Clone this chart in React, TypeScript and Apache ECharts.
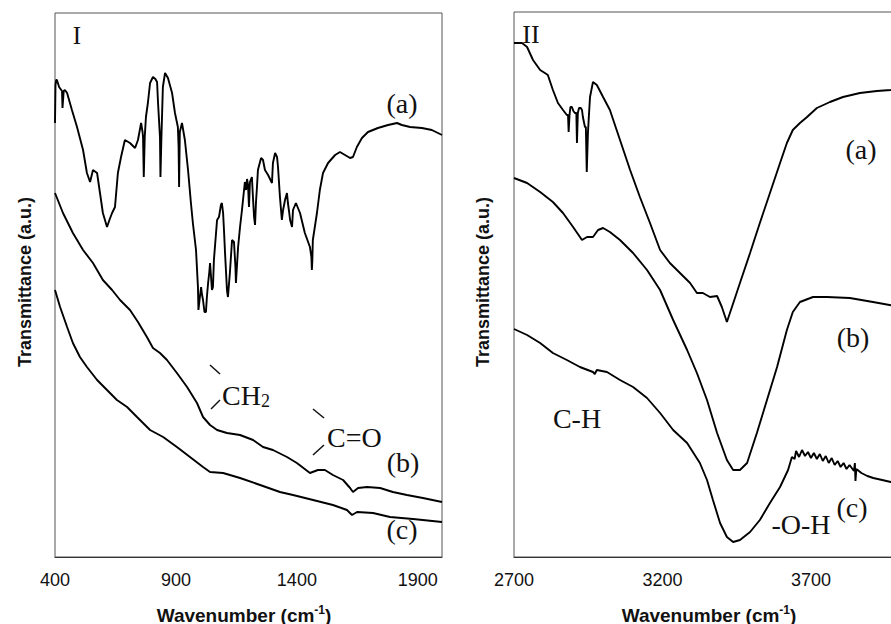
import React, { useEffect, useRef } from "react";
import * as echarts from "echarts";

// Tick labels
const LEFT_TICKS = [400, 900, 1400, 1900];
const RIGHT_TICKS = [2700, 3200, 3700];

// Panel I: [wavenumber, transmittance (a.u.)]
const leftA: number[][] = [
  [400,434],[402,472],[405,477],[408,477],[417,470],[429,466],[431,449],[433,449],[436,466],[441,467],[450,464],[470,447],[491,430],[516,407],[532,384],[545,375],[557,387],[574,384],[586,364],[598,344],[615,330],[625,337],[636,344],[648,350],[660,384],[673,400],[689,417],[710,414],[731,409],[743,417],[756,434],[762,425],[764,420],[767,380],[771,420],[776,440],[784,454],[793,474],[805,480],[815,478],[822,475],[826,454],[834,420],[836,380],[840,420],[846,470],[855,484],[867,479],[884,464],[896,444],
  [908,430],[911,410],[913,370],[916,425],[921,430],[925,434],[937,417],[950,387],[962,354],[970,334],[983,307],[991,270],[993,247],[995,247],[999,260],[1004,270],[1008,262],[1012,257],[1018,245],[1024,245],[1028,260],[1033,274],[1038,285],[1041,294],[1049,267],[1053,270],[1057,297],[1070,337],[1078,340],[1086,352],[1090,354],[1095,344],[1099,325],[1103,304],[1111,267],[1115,260],[1123,284],[1132,317],[1140,315],[1146,290],[1148,274],[1152,290],[1157,310],[1165,330],[1173,347],[1185,375],[1190,367],[1194,378],[1198,372],[1202,350],[1206,375],[1214,380],[1219,357],[1223,340],[1227,332],[1231,355],[1235,370],[1239,387],[1252,399],[1260,397],[1268,387],[1281,382],[1297,374],[1301,394],[1310,404],[1318,400],[1322,390],[1330,360],[1338,337],[1343,347],[1351,357],[1359,364],[1363,354],[1368,345],[1372,337],[1380,330],[1384,347],[1396,354],
  [1413,344],[1433,324],[1454,310],[1460,300],[1462,287],[1464,297],[1466,317],[1483,344],[1495,367],[1508,384],[1529,394],[1558,402],[1578,405],[1599,402],[1620,399],[1632,400],[1648,410],[1669,419],[1694,425],[1735,429],[1777,432],[1814,434],[1834,432],[1868,430],[1917,429],[1958,427],[2000,422]
];
const leftB: number[][] = [
  [400,364],[433,344],[474,324],[516,307],[557,294],[598,277],[636,267],[669,257],[710,247],[743,235],[780,220],[805,209],[834,204],[863,197],[904,184],[946,170],[987,154],[1012,140],[1041,132],[1070,127],[1111,124],[1165,122],[1219,117],[1260,110],[1301,107],[1359,100],[1400,94],[1454,84],[1487,87],[1516,87],[1549,82],[1591,77],[1620,69],[1632,65],[1653,69],[1690,70],[1744,69],[1797,65],[1855,62],[1921,59],[2000,55]
];
const leftC: number[][] = [
  [400,267],[421,250],[450,230],[474,214],[503,200],[532,190],[574,177],[615,167],[656,157],[698,150],[739,140],[793,127],[847,120],[904,110],[958,100],[1012,90],[1041,85],[1095,84],[1165,79],[1248,72],[1330,65],[1384,62],[1467,57],[1549,52],[1607,47],[1628,42],[1649,45],[1715,44],[1785,40],[1880,38],[2000,35]
];

// Panel II
const rightA: number[][] = [
  [2700,514],[2727,514],[2744,510],[2764,497],[2788,487],[2804,484],[2814,482],[2831,467],[2848,454],[2865,447],[2878,442],[2882,442],[2884,425],[2887,442],[2890,450],[2895,450],[2900,446],[2905,444],[2910,444],[2912,414],[2915,444],[2919,449],[2925,449],[2929,447],[2932,440],[2939,430],[2942,430],[2945,385],[2947,385],[2949,424],[2952,440],[2956,460],[2966,475],[2979,472],[3000,460],[3023,447],[3057,417],[3091,387],[3124,360],[3158,334],[3192,307],[3225,294],[3259,284],[3293,274],[3316,264],[3336,264],[3360,260],[3384,261],[3400,250],[3417,235],[3434,250],[3461,274],[3495,304],[3528,334],[3562,364],[3596,394],[3619,414],[3639,427],[3663,434],[3687,440],[3720,449],[3764,455],[3808,460],[3865,464],[3922,466],[3969,467],[4000,468]
];
const rightB: number[][] = [
  [2700,379],[2744,374],[2788,365],[2831,355],[2865,344],[2899,330],[2929,317],[2946,320],[2966,320],[2983,327],[3000,329],[3023,325],[3057,317],[3101,304],[3148,287],[3192,267],[3236,237],[3283,207],[3316,184],[3350,157],[3384,124],[3417,97],[3438,87],[3461,87],[3485,94],[3518,124],[3552,157],[3586,190],[3619,227],[3639,245],[3663,255],[3707,260],[3754,260],[3831,259],[3909,255],[4000,250]
];
const rightC: number[][] = [
  [2700,228],[2744,222],[2788,214],[2831,204],[2878,197],[2922,190],[2966,185],[2972,183],[2979,187],[3013,185],[3057,177],[3101,170],[3148,159],[3192,144],[3236,127],[3283,114],[3326,94],[3350,77],[3370,57],[3394,34],[3417,20],[3438,15],[3461,17],[3495,25],[3528,37],[3562,54],[3596,70],[3623,87],[3636,100],[3645,98],[3650,106],[3660,100],[3670,107],[3680,101],[3690,105],[3700,99],[3710,104],[3720,98],[3730,103],[3740,96],[3750,101],[3760,94],[3770,99],[3780,92],[3790,96],[3800,90],[3810,94],[3820,88],[3830,92],[3845,86],[3848,94],[3850,76],[3853,88],[3870,84],[3890,81],[3910,79],[3940,77],[3969,75],[4000,73]
];

const SANS = "'Liberation Sans', Arial, sans-serif";
const SERIF = "'Liberation Serif', 'Times New Roman', serif";

export default function App() {
  const ref = useRef<HTMLDivElement>(null);
  useEffect(() => {
    if (!ref.current) return;
    const chart = echarts.init(ref.current, undefined, { renderer: "svg" });
    const line = (data: number[][], idx: number) => ({
      type: "line",
      data,
      xAxisIndex: idx,
      yAxisIndex: idx,
      showSymbol: false,
      symbol: "none",
      lineStyle: { color: "#000", width: 1.9 },
      silent: true,
    });
    const xAxisBase = (min: number, max: number, ticks: number[], gi: number) => ({
      gridIndex: gi,
      type: "value",
      min,
      max,
      interval: 500,
      axisLine: { show: true, lineStyle: { color: "#333", width: 1 } },
      axisTick: { show: false },
      splitLine: { show: false },
      axisLabel: {
        fontSize: 18,
        fontFamily: SANS,
        color: "#111",
        margin: 14,
        formatter: (v: number) => (ticks.includes(v) ? String(v) : ""),
      },
    });
    const yAxisBase = (gi: number, max: number) => ({
      gridIndex: gi,
      type: "value",
      min: 0,
      max,
      axisLine: { show: false },
      axisTick: { show: false },
      axisLabel: { show: false },
      splitLine: { show: false },
    });
    const serifText = (text: string, x: number, y: number, size = 28, align = "center") => ({
      type: "text",
      x,
      y,
      style: {
        text,
        fontFamily: SERIF,
        fontSize: size,
        fill: "#111",
        align,
        verticalAlign: "middle",
      },
      silent: true,
    });
    const tick = (x1: number, y1: number, x2: number, y2: number) => ({
      type: "line",
      shape: { x1, y1, x2, y2 },
      style: { stroke: "#111", lineWidth: 1.5 },
      silent: true,
    });
    const yName = (x: number) => ({
      type: "text",
      x,
      y: 282,
      rotation: Math.PI / 2,
      style: {
        text: "Transmittance (a.u.)",
        fontFamily: SANS,
        fontWeight: "bold",
        fontSize: 18,
        fill: "#111",
        align: "center",
        verticalAlign: "middle",
      },
      silent: true,
    });
    const xName = (x: number) => ({
      type: "text",
      x,
      y: 615,
      style: {
        text: "{m|Wavenumber (cm}{s|-1}{m|)}",
        align: "center",
        verticalAlign: "middle",
        rich: {
          m: { fontFamily: SANS, fontWeight: "bold", fontSize: 19, fill: "#111", lineHeight: 22 },
          s: { fontFamily: SANS, fontWeight: "bold", fontSize: 12, fill: "#111", lineHeight: 14, verticalAlign: "top" },
        },
      },
      silent: true,
    });

    chart.setOption({
      animation: false,
      backgroundColor: "#fff",
      grid: [
        { left: 55, top: 13, width: 387, height: 544, show: true, borderColor: "#555", borderWidth: 1, containLabel: false, outerBoundsMode: "none" },
        { left: 514, top: 12, width: 386, height: 545, show: true, borderColor: "#555", borderWidth: 1, containLabel: false, outerBoundsMode: "none" },
      ],
      xAxis: [xAxisBase(400, 2000, LEFT_TICKS, 0), xAxisBase(2700, 4000, RIGHT_TICKS, 1)],
      yAxis: [yAxisBase(0, 544), yAxisBase(1, 545)],
      series: [
        line(leftA, 0),
        line(leftB, 0),
        line(leftC, 0),
        line(rightA, 1),
        line(rightB, 1),
        line(rightC, 1),
      ],
      graphic: [
        yName(25),
        yName(483),
        xName(244),
        xName(709),
        serifText("I", 77, 35, 25),
        serifText("II", 531, 34, 26),
        serifText("(a)", 402, 103),
        serifText("(b)", 403, 462),
        serifText("(c)", 402, 529),
        {
          type: "text",
          x: 222,
          y: 395,
          style: {
            text: "{m|CH}{s|2}",
            align: "left",
            verticalAlign: "middle",
            rich: {
              m: { fontFamily: SERIF, fontSize: 28, fill: "#111", lineHeight: 30 },
              s: { fontFamily: SERIF, fontSize: 18, fill: "#111", lineHeight: 20, verticalAlign: "bottom" },
            },
          },
          silent: true,
        },
        tick(210, 365, 220, 374),
        tick(211, 409, 220, 400),
        serifText("C=O", 327, 437, 28, "left"),
        tick(313, 409, 324, 418),
        tick(313, 455, 324, 445),
        serifText("(a)", 861, 149),
        serifText("(b)", 853, 337),
        serifText("C-H", 577, 418),
        serifText("-O-H", 801, 524),
        serifText("(c)", 852, 507),
      ],
    });
    return () => chart.dispose();
  }, []);
  return (
    <div style={{ position: "absolute", left: 0, top: 0, width: 891, height: 624, overflow: "hidden", background: "#fff" }}>
      <div ref={ref} style={{ width: 900, height: 624 }} />
    </div>
  );
}
